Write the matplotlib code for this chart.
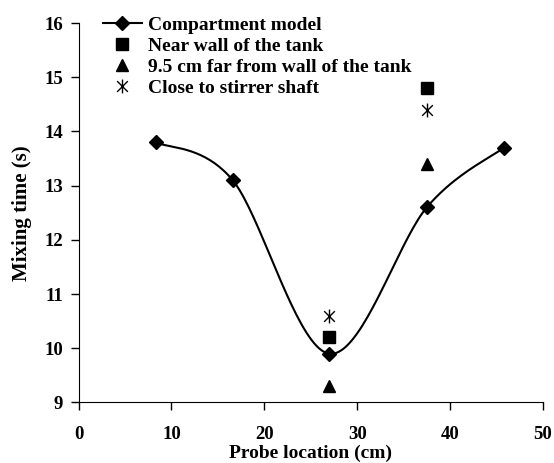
import numpy as np
import matplotlib.pyplot as plt
from matplotlib.path import Path

# Compartment model
model_x = [8.3, 16.6, 27.0, 37.5, 45.8]
model_y = [13.8, 13.1, 9.9, 12.6, 13.7]

# Experimental probes
probe_x = [27.0, 37.5]
near_wall = [10.2, 14.8]
far_wall = [9.3, 13.4]
near_shaft = [10.6, 14.4]


def smooth_curve(x, y, n=40):
    # Excel-like smoothed line (Catmull-Rom Bezier segments)
    p = np.column_stack([x, y]).astype(float)
    p = np.vstack([p[0], p, p[-1]])
    out = []
    t = np.linspace(0, 1, n)[:, None]
    for i in range(1, len(p) - 2):
        p0, p1, p2, p3 = p[i - 1], p[i], p[i + 1], p[i + 2]
        c1 = p1 + (p2 - p0) / 6
        c2 = p2 - (p3 - p1) / 6
        seg = ((1 - t) ** 3) * p1 + 3 * ((1 - t) ** 2) * t * c1 \
            + 3 * (1 - t) * t ** 2 * c2 + t ** 3 * p2
        out.append(seg)
    out = np.vstack(out)
    return out[:, 0], out[:, 1]


asterisk = Path([(-1, -1), (1, 1), (-1, 1), (1, -1), (0, -1.3), (0, 1.3)],
                [Path.MOVETO, Path.LINETO, Path.MOVETO, Path.LINETO,
                 Path.MOVETO, Path.LINETO])

plt.rcParams['font.family'] = 'Liberation Serif'
plt.rcParams['font.weight'] = 'bold'

fig = plt.figure(figsize=(5.54, 4.63), dpi=100)
ax = fig.add_axes([0.1417, 0.1307, 0.8383, 0.8196])

sx, sy = smooth_curve(model_x, model_y)
ax.plot(sx, sy, color='black', lw=1.5)
ax.plot(model_x, model_y, linestyle='none', marker='D', ms=7.5, color='black')
# legend proxy for the model
ax.plot([], [], color='black', lw=1.5, marker='D', ms=7.5, label='Compartment model')

ax.plot(probe_x, near_wall, linestyle='none', marker='s', ms=8, color='black',
        label='Near wall of the tank')
ax.plot(probe_x, far_wall, linestyle='none', marker='^', ms=8.5, color='black',
        label='9.5 cm far from wall of the tank')
ax.plot(probe_x, near_shaft, linestyle='none', marker=asterisk, ms=10,
        color='black', mew=1.0, fillstyle='none',
        label='Close to stirrer shaft')

ax.set_xlim(0, 50)
ax.set_ylim(9, 16)
ax.set_xticks(range(0, 51, 10))
ax.set_yticks(range(9, 17))
ax.spines['top'].set_visible(False)
ax.spines['right'].set_visible(False)
ax.tick_params(direction='out', length=6, width=1, labelsize=13.5)
ax.tick_params(axis='x', pad=11)
ax.tick_params(axis='y', pad=5)
for lab in ax.get_xticklabels() + ax.get_yticklabels():
    lab.set_fontweight('bold')

ax.set_xlabel('Probe location (cm)', fontsize=14, fontweight='bold', labelpad=1)
ax.set_ylabel('Mixing time (s)', fontsize=15, fontweight='bold', labelpad=9)

ax.legend(loc='upper left', bbox_to_anchor=(0.186, 0.965),
          bbox_transform=fig.transFigure, frameon=False, fontsize=14,
          handlelength=2.0, handletextpad=0.3, labelspacing=0.18,
          borderaxespad=0.0, borderpad=0.0)

fig.savefig('out.png', dpi=100)
plt.close()
